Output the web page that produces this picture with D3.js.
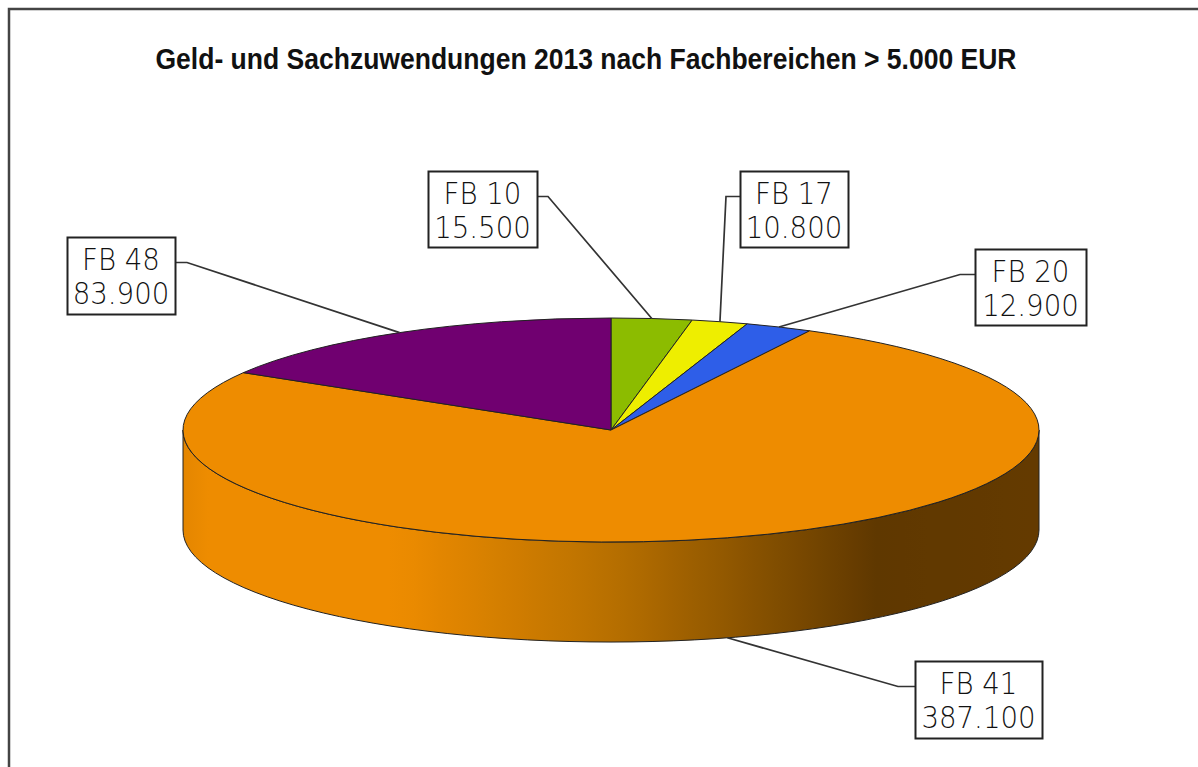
<!DOCTYPE html>
<html lang="de">
<head>
    <meta charset="UTF-8">
    <title>Geld- und Sachzuwendungen 2013</title>
    <script src="https://cdnjs.cloudflare.com/ajax/libs/d3/7.8.5/d3.min.js"></script>
    <style>
        html, body { margin: 0; background: #fff; overflow: hidden; }
        svg { display: block; }
    </style>
</head>
<body>
    <div id="pieChart"></div>
    <script>
        // data
        const titleText = 'Geld- und Sachzuwendungen 2013 nach Fachbereichen > 5.000 EUR'
        const categories = ['FB 10', 'FB 17', 'FB 20', 'FB 41', 'FB 48']
        const values = [15500, 10800, 12900, 387100, 83900]
        const valueLabels = ['15.500', '10.800', '12.900', '387.100', '83.900']
        const colors = ['#8cbc00', '#eeee00', '#2e5ee8', '#ee8c00', '#700070']

        // size
        const width = 1198,
            height = 767,
            cx = 611,
            cy = 430,
            rx = 428,
            ry = 112,
            depth = 100,
            squash = ry / rx

        // label boxes: x, y, w, h, and the side the leader leaves from
        const boxes = [
            { x: 428, y: 171, w: 109, h: 76, side: 'right', tail: 11 },
            { x: 740, y: 171, w: 108, h: 76, side: 'left', tail: 14 },
            { x: 975, y: 249, w: 111, h: 76, side: 'left', tail: 15 },
            { x: 915, y: 661, w: 127, h: 77, side: 'left', tail: 17 },
            { x: 67, y: 237, w: 108, h: 77, side: 'right', tail: 12 }
        ]

        const svg = d3.select('#pieChart')
            .append('svg')
            .attr('width', width)
            .attr('height', height)

        // frame: only the top and left edges fall inside the picture
        svg.append('rect')
            .attr('x', 9)
            .attr('y', 9)
            .attr('width', 1300)
            .attr('height', 900)
            .attr('fill', '#fff')
            .attr('stroke', '#444')
            .attr('stroke-width', 2.5)

        // title
        svg.append('text')
            .attr('x', 586)
            .attr('y', 69)
            .attr('text-anchor', 'middle')
            .attr('font-family', '"Liberation Sans", sans-serif')
            .attr('font-weight', 'bold')
            .attr('font-size', 29)
            .attr('textLength', 861)
            .attr('lengthAdjust', 'spacingAndGlyphs')
            .attr('fill', '#111')
            .text(titleText)

        // wall shading, left to right
        const wallColor = d3.color(colors[3])
        const shade = d3.scaleLinear()
            .domain([0, 0.03, 0.25, 0.5, 0.81, 1])
            .range([wallColor.darker(0.12), wallColor, wallColor, '#b87000', '#5f3800', '#643a00'])
        const defs = svg.append('defs')
        const grad = defs.append('linearGradient')
            .attr('id', 'wall')
        d3.range(0, 1.001, 0.03).forEach(t => {
            grad.append('stop')
                .attr('offset', t)
                .attr('stop-color', shade(t))
        })

        const pie = d3.pie()
            .sort(null)
            .value(d => d)
        const slices = pie(values)

        const arc = d3.arc()
            .innerRadius(0)
            .outerRadius(rx)

        // everything round is drawn as a circle and squashed into the ellipse
        const plate = svg.append('g')
            .attr('transform', `translate(${cx}, ${cy}) scale(1, ${squash})`)

        // wall: lower half of the rim, pushed down by the depth
        const deep = depth / squash
        const wallPath = d3.path()
        wallPath.arc(0, 0, rx, 0, Math.PI)
        wallPath.lineTo(-rx, deep)
        wallPath.arc(0, deep, rx, Math.PI, 0, true)
        wallPath.closePath()
        plate.append('path')
            .attr('d', wallPath.toString())
            .attr('fill', 'url(#wall)')
            .attr('stroke', '#222')
            .attr('stroke-width', 1)
            .attr('vector-effect', 'non-scaling-stroke')

        // top slices
        plate.selectAll('.slice')
            .data(slices)
            .enter()
            .append('path')
            .attr('class', 'slice')
            .attr('d', arc)
            .attr('fill', (d, i) => colors[i])
            .attr('stroke', '#222')
            .attr('stroke-width', 1)
            .attr('vector-effect', 'non-scaling-stroke')

        // leaders start at the rim, in the middle of each slice
        const line = d3.line()
        const rimPoint = d => {
            const a = (d.startAngle + d.endAngle) / 2
            const x = cx + rx * Math.sin(a)
            const y = cy - ry * Math.cos(a)
            return [x, Math.cos(a) < 0 ? y + depth : y]
        }

        slices.forEach((d, i) => {
            const b = boxes[i]
            const edge = b.side === 'left' ? b.x : b.x + b.w
            const tailX = b.side === 'left' ? edge - b.tail : edge + b.tail
            const rowY = b.y + 25.5

            svg.append('path')
                .attr('d', line([[edge, rowY], [tailX, rowY], rimPoint(d)]))
                .attr('fill', 'none')
                .attr('stroke', '#333')
                .attr('stroke-width', 1.7)

            const label = svg.append('g')
            label.append('rect')
                .attr('x', b.x + 0.5)
                .attr('y', b.y + 0.5)
                .attr('width', b.w)
                .attr('height', b.h)
                .attr('fill', '#fff')
                .attr('stroke', '#222')
                .attr('stroke-width', 2)

            const textRows = [categories[i], valueLabels[i]]
            textRows.forEach((t, row) => {
                const rowText = label.append('text')
                    .attr('x', b.x + b.w / 2)
                    .attr('y', b.y + 32.5 + row * 34)
                    .attr('text-anchor', 'middle')
                    .attr('font-family', '"DejaVu Sans", sans-serif')
                    .attr('font-weight', 200)
                    .attr('font-size', 30)
                    .attr('fill', '#111')
                    .text(t)
                // the glyphs in the picture are a little narrower than the font
                rowText
                    .attr('textLength', rowText.node().getComputedTextLength() * 0.92)
                    .attr('lengthAdjust', 'spacingAndGlyphs')
            })
        })
    </script>
</body>
</html>
